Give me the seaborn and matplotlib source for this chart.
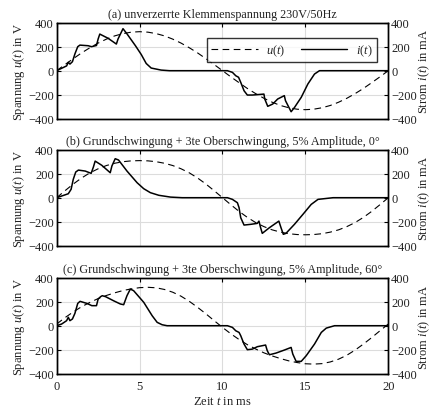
import numpy as np
import pandas as pd
import matplotlib
matplotlib.use("Agg")
import matplotlib.pyplot as plt
import seaborn as sns
from matplotlib.lines import Line2D

# ---------------- data ----------------
t_u = [k * 0.5 for k in range(41)]  # ms

u_a_half = [0, 51, 100, 148, 191, 230, 263, 290, 309, 321, 325, 321, 309, 290, 263, 230, 191, 148, 100, 51]
u_a = u_a_half + [0] + [-v for v in u_a_half[1:]] + [0]

u_b_half = [0, 58, 114, 164, 207, 241, 268, 287, 300, 307, 309, 307, 300, 287, 268, 241, 207, 164, 114, 58]
u_b = u_b_half + [0] + [-v for v in u_b_half[1:]] + [0]

u_c_half = [14, 67, 115, 158, 194, 226, 252, 274, 293, 307, 317, 320, 316, 302, 279, 246, 203, 153, 99, 42]
u_c = u_c_half + [-v for v in u_c_half] + [14]

t_i_a = [0, 0.3, 0.6, 0.7, 0.8, 0.95, 1.1, 1.27, 1.4, 1.9, 2.1, 2.4, 2.5, 2.6, 3.1, 3.6, 3.7, 4.0,
         4.25, 4.75, 5.1, 5.4, 5.7, 6.3, 6.8, 10.3, 10.6, 10.8, 10.97, 11.1, 11.3, 11.5, 11.8, 12.5,
         12.55, 12.73, 13.03, 13.33, 13.73, 13.8, 14.14, 14.35, 14.75, 15.15, 15.55, 15.85, 20]
i_a = [0, 20, 40, 70, 55, 75, 140, 200, 213, 208, 200, 210, 264, 305, 270, 222, 264, 350,
       305, 208, 135, 60, 22, 5, 0, 0, -14, -42, -55, -97, -167, -203, -203, -195,
       -236, -297, -278, -236, -208, -250, -342, -305, -222, -111, -28, 0, 0]

t_i_b = [0, 0.3, 0.7, 0.87, 1.0, 1.15, 1.31, 1.72, 2.08, 2.22, 2.32, 2.72, 3.23, 3.33, 3.53, 3.73,
         4.24, 4.85, 5.25, 5.65, 6.16, 6.87, 7.57, 10.3, 10.6, 10.9, 11.0, 11.1, 11.3, 11.7, 12.1,
         12.2, 12.3, 12.4, 12.83, 13.4, 13.53, 13.67, 13.83, 14.34, 14.85, 15.35, 15.76, 16.67, 20]
i_b = [0, 14, 33, 70, 153, 214, 230, 222, 203, 258, 305, 270, 208, 264, 325, 314,
       222, 125, 75, 42, 20, 5, 0, 0, -14, -42, -83, -167, -228, -222, -214,
       -195, -250, -297, -250, -195, -250, -305, -297, -222, -139, -56, -14, 0, 0]

t_i_c = [0, 0.3, 0.6, 0.7, 0.8, 0.95, 1.1, 1.27, 1.41, 1.82, 2.12, 2.4, 2.5, 2.65, 2.75, 2.95, 3.43,
         3.84, 4.04, 4.24, 4.44, 4.64, 5.25, 5.76, 6.06, 6.36, 6.66, 10.3, 10.6, 10.8, 11.0, 11.1,
         11.3, 11.5, 11.8, 12.1, 12.6, 12.7, 12.83, 13.23, 13.73, 14.14, 14.24, 14.44, 14.75, 15.05,
         15.55, 15.96, 16.26, 16.76, 20]
i_c = [0, 14, 42, 70, 42, 56, 103, 186, 203, 186, 167, 167, 222, 242, 250, 242, 208,
       181, 175, 250, 305, 292, 195, 83, 28, 8, 0, 0, -14, -42, -56, -83,
       -153, -200, -195, -175, -161, -208, -242, -228, -203, -181, -236, -297, -297, -250,
       -153, -56, -20, 0, 0]

titles = ["(a) unverzerrte Klemmenspannung 230V/50Hz",
          "(b) Grundschwingung + 3te Oberschwingung, 5% Amplitude, 0°",
          "(c) Grundschwingung + 3te Oberschwingung, 5% Amplitude, 60°"]
y_ticks = [-400, -200, 0, 200, 400]
x_ticks = [0, 5, 10, 15, 20]

# ---------------- style ----------------
sns.set_theme(style="white")
plt.rcParams["font.family"] = ["Liberation Serif", "DejaVu Serif"]
plt.rcParams["mathtext.fontset"] = "custom"
plt.rcParams["mathtext.it"] = "Liberation Serif:italic"
plt.rcParams["mathtext.rm"] = "Liberation Serif"
FS = 9
TXT = "#222222"

fig = plt.figure(figsize=(4.35, 4.14), dpi=100)
left, width, height = 0.1303, 0.7623, 0.2319
bottoms = [0.7109, 0.4041, 0.0949]

panels = [(u_a, t_i_a, i_a), (u_b, t_i_b, i_b), (u_c, t_i_c, i_c)]
for idx, ((u, ti, ii), b) in enumerate(zip(panels, bottoms)):
    ax = fig.add_axes([left, b, width, height])
    dfu = pd.DataFrame({"t": t_u, "u": u})
    dfi = pd.DataFrame({"t": ti, "i": ii})
    ax.set_xlim(0, 20)
    ax.set_ylim(-400, 400)
    ax.set_yticks(y_ticks)
    ax.set_xticks(x_ticks)
    ax.grid(True, color="#dcdcdc", lw=0.8)
    ax.set_axisbelow(True)
    sns.lineplot(data=dfu, x="t", y="u", ax=ax, color="black", lw=0.8,
                 linestyle=(0, (6, 4)), estimator=None, sort=False)
    ax2 = ax.twinx()
    ax2.set_ylim(-400, 400)
    ax2.set_yticks(y_ticks)
    sns.lineplot(data=dfi, x="t", y="i", ax=ax2, color="black", lw=1.1,
                 estimator=None, sort=False)
    for a in (ax, ax2):
        for s in a.spines.values():
            s.set_color("black")
            s.set_linewidth(1.0)
    ax.tick_params(axis="y", direction="in", length=3, width=0.8, labelsize=FS,
                   colors="black", labelcolor=TXT, pad=2)
    ax.tick_params(axis="x", direction="in", length=3, width=0.8, labelsize=FS,
                   colors="black", labelcolor=TXT, top=True, pad=4.5)
    ax2.tick_params(axis="y", direction="in", length=3, width=0.8, labelsize=FS,
                    colors="black", labelcolor=TXT, pad=2)
    ax.set_ylabel("Spannung $u(t)$ in V", fontsize=FS, color=TXT, labelpad=1)
    ax2.set_ylabel("Strom $i(t)$ in mA", fontsize=FS, color=TXT, labelpad=0)
    ax.set_title(titles[idx], fontsize=8.7, color=TXT, pad=4)
    if idx < 2:
        ax.set_xticklabels([])
        ax.set_xlabel("")
    else:
        ax.set_xlabel("Zeit $t$ in ms", fontsize=FS, color=TXT, labelpad=2)
    if idx == 0:
        handles = [Line2D([], [], color="black", lw=0.8, linestyle=(0, (6, 4))),
                   Line2D([], [], color="black", lw=1.0)]
        leg = ax2.legend(handles, ["$u(t)$", "$i(t)$"], ncol=2, loc="upper right",
                         bbox_to_anchor=(0.984, 0.905), fontsize=FS, frameon=True,
                         fancybox=False, edgecolor="black", handlelength=3.7,
                         columnspacing=1.2, handletextpad=0.7, borderpad=0.35)
        leg.get_frame().set_linewidth(1.0)
    else:
        if ax2.get_legend():
            ax2.get_legend().remove()

fig.savefig("out.png", dpi=100)
